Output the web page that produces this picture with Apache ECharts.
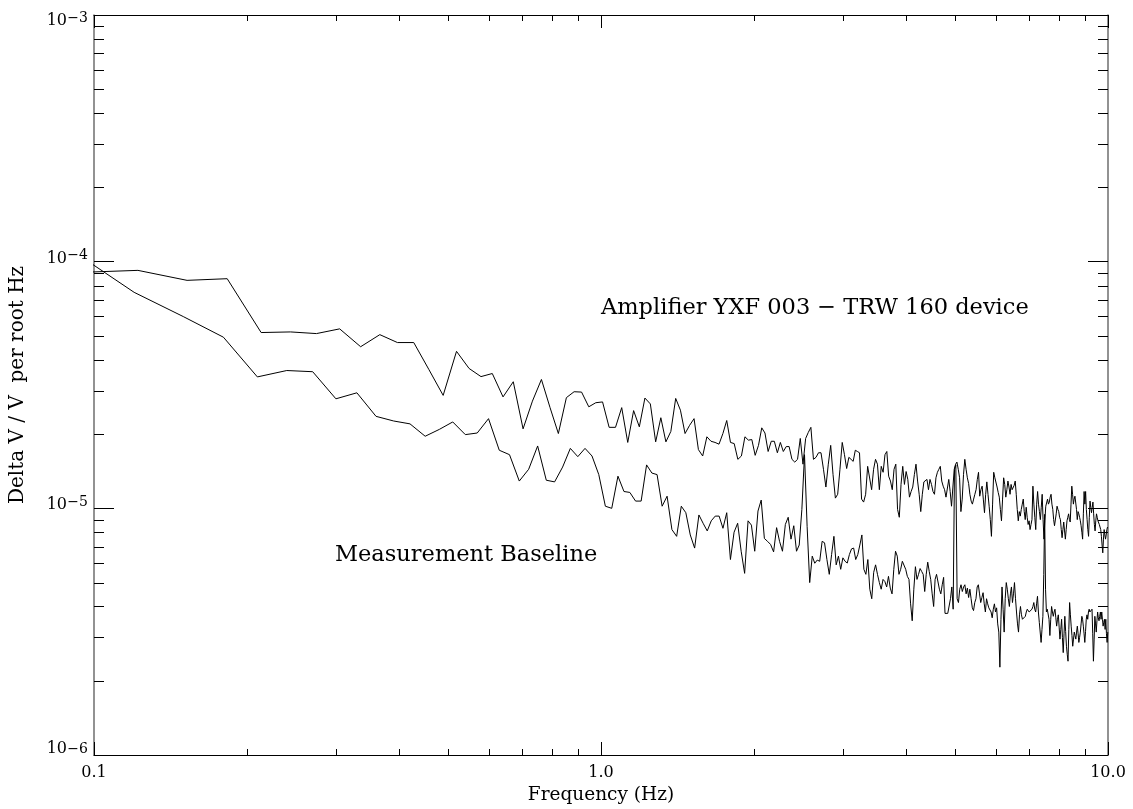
<!DOCTYPE html>
<html>
<head>
<meta charset="utf-8">
<script src="https://cdn.jsdelivr.net/npm/echarts@6/dist/echarts.min.js"></script>
<style>
  html, body { margin: 0; padding: 0; background: #fff; }
  #chart { width: 1133px; height: 809px; }
</style>
</head>
<body>
<div id="chart"></div>
<script>
// ---- Data (values in units of 1e-6, i.e. Delta V / V per root Hz x 1e6) ----
// Frequency grid: spectral bins, first bin index and bin width (Hz)
const amplifierFirstBin = 3;
const amplifierBinWidth = 0.030518;
const baselineFirstBin = 3;
const baselineBinWidth = 0.03;

// "Amplifier YXF 003 - TRW 160 device" trace
const amplifierValues = [
  90.3, 92.2, 84.0, 85.3, 51.6, 51.9, 51.1, 53.4, 45.2, 50.6,
  47.0, 47.0, 36.5, 28.7, 43.3, 36.9, 34.2, 35.2, 28.3, 32.6,
  21.0, 27.2, 33.3, 25.6, 20.1, 28.1, 29.7, 29.6, 25.8, 26.8,
  27.0, 21.3, 21.3, 25.6, 18.5, 24.9, 21.4, 28.0, 26.5, 18.6,
  23.3, 18.6, 20.5, 27.9, 25.0, 20.1, 21.7, 23.1, 17.3, 16.3,
  19.5, 18.7, 18.5, 18.2, 20.1, 22.7, 18.5, 18.3, 15.8, 16.3,
  19.5, 18.9, 19.0, 16.4, 18.0, 21.2, 20.2, 17.0, 18.7, 18.7,
  16.8, 18.5, 17.0, 17.8, 17.8, 15.8, 15.4, 15.8, 19.2, 15.1,
  19.2, 20.3, 21.3, 15.8, 16.1, 16.8, 16.8, 14.4, 12.2, 15.1,
  18.0, 13.7, 11.0, 11.4, 14.4, 18.5, 16.5, 14.5, 16.1, 15.8,
  15.5, 17.2, 17.0, 16.8, 10.9, 10.6, 11.4, 14.8, 14.6, 11.9,
  14.4, 15.8, 15.1, 11.9, 14.8, 14.0, 16.5, 17.0, 13.5, 12.9,
  11.9, 14.4, 15.1, 9.9, 9.2, 12.5, 14.8, 12.5, 14.1, 13.1,
  11.1, 11.7, 12.2, 13.7, 15.1, 12.9, 11.4, 9.7, 11.4, 12.8,
  12.9, 13.1, 11.9, 13.1, 12.5, 11.7, 11.4, 13.3, 14.0, 14.4,
  14.8, 12.9, 12.3, 11.9, 11.1, 10.9, 13.1, 11.7, 10.2, 12.2,
  14.4, 15.1, 15.4, 14.4, 13.3, 9.7, 10.9, 13.7, 15.8, 14.4,
  13.3, 12.6, 11.4, 10.7, 10.4, 10.9, 11.4, 11.9, 13.1, 14.0,
  11.2, 11.9, 12.3, 10.9, 9.6, 11.4, 12.8, 11.4, 10.2, 9.0,
  7.7, 10.4, 14.0, 13.3, 13.1, 12.2, 11.6, 11.1, 9.9, 8.9,
  10.9, 13.3, 12.5, 11.1, 11.9, 12.9, 12.2, 11.4, 12.5, 11.9,
  11.7, 12.4, 12.9, 11.4, 9.9, 8.9, 9.7, 9.3, 9.9, 10.4,
  10.9, 9.7, 9.0, 10.1, 9.2, 8.6, 8.9, 8.2, 8.6, 9.0,
  12.3, 10.4, 9.2, 8.2, 10.4, 11.7, 10.4, 9.7, 9.0, 10.1,
  11.4, 9.0, 7.5, 8.9, 10.2, 10.2, 10.9, 10.4, 10.6, 11.1,
  11.4, 10.4, 9.9, 9.0, 8.5, 8.6, 9.5, 10.2, 9.9, 9.7,
  9.2, 9.0, 8.2, 7.6, 8.2, 8.8, 8.1, 7.5, 8.2, 8.9,
  9.2, 9.5, 9.0, 8.8, 10.4, 12.3, 11.4, 10.4, 10.9, 11.2,
  11.4, 9.9, 9.0, 9.7, 9.5, 9.2, 8.9, 8.5, 8.0, 7.5,
  9.5, 11.7, 10.4, 11.7, 9.9, 9.0, 8.2, 7.7, 9.2, 10.7,
  10.1, 9.6, 10.1, 10.6, 9.5, 8.6, 8.1, 8.9, 9.5, 9.2,
  8.9, 8.9, 8.6, 8.6, 8.2, 7.7, 7.1, 6.6, 7.5, 8.2,
  7.8, 7.5, 7.8, 8.2, 8.4
];

// "Measurement Baseline" trace
const baselineValues = [
  111.8, 75.1, 59.9, 49.4, 34.1, 36.2, 35.8, 27.8, 29.4, 23.6,
  22.6, 22.0, 19.6, 20.9, 22.4, 19.9, 20.2, 23.1, 17.2, 16.5,
  12.9, 14.4, 17.9, 13.0, 12.8, 14.7, 17.5, 16.2, 17.5, 16.3,
  13.7, 10.2, 10.0, 13.5, 11.7, 11.6, 10.7, 10.7, 15.0, 13.9,
  13.7, 10.2, 11.2, 8.2, 7.7, 10.2, 9.6, 7.8, 6.9, 9.4,
  8.7, 8.1, 8.9, 9.3, 9.3, 8.3, 9.6, 6.2, 8.0, 8.7,
  6.7, 5.45, 8.9, 8.55, 6.7, 9.75, 10.8, 7.55, 7.35, 7.14,
  6.66, 8.35, 7.35, 6.7, 8.6, 9.2, 7.5, 8.5, 6.7, 7.1,
  9.9, 16.5, 8.45, 5.0, 6.4, 5.99, 6.17, 6.1, 7.35, 7.25,
  6.2, 5.4, 6.5, 7.7, 5.9, 6.4, 5.66, 6.3, 6.1, 6.0,
  6.5, 6.85, 6.9, 6.2, 6.5, 7.1, 7.8, 5.66, 5.4, 6.2,
  4.7, 4.3, 5.5, 5.9, 5.4, 5.0, 4.7, 5.15, 5.05, 4.8,
  5.3, 4.75, 4.5, 5.66, 6.7, 6.4, 5.4, 5.66, 6.1, 6.05,
  5.66, 5.3, 5.15, 4.1, 3.5, 4.7, 5.8, 5.15, 5.4, 5.7,
  5.55, 5.4, 4.6, 5.4, 6.05, 5.55, 5.15, 4.5, 4.0, 5.15,
  5.4, 5.5, 4.7, 4.5, 4.9, 5.25, 3.75, 3.8, 3.75, 3.8,
  4.3, 4.8, 3.9, 14.4, 15.0, 4.3, 4.15, 4.7, 4.9, 4.6,
  4.8, 4.9, 4.5, 4.75, 4.35, 4.7, 4.3, 3.95, 3.85, 4.15,
  4.3, 4.8, 4.9, 4.5, 4.15, 4.35, 4.55, 4.1, 3.8, 4.3,
  4.1, 3.95, 3.9, 3.8, 3.6, 3.9, 4.1, 3.8, 3.95, 3.4,
  3.15, 2.27, 3.55, 4.8, 3.9, 3.15, 4.3, 5.0, 4.7, 4.3,
  4.0, 4.5, 4.8, 4.15, 4.5, 5.0, 4.3, 3.8, 3.4, 3.15,
  3.7, 4.0, 3.7, 3.55, 3.5, 3.5, 3.65, 3.8, 3.9, 3.95,
  3.8, 3.8, 3.8, 3.9, 4.0, 4.15, 3.9, 3.8, 4.1, 4.4,
  3.8, 3.45, 3.5, 2.86, 3.23, 3.65, 5.4, 9.45, 4.7, 3.8,
  3.9, 3.95, 3.55, 3.05, 3.55, 4.0, 3.8, 3.65, 3.8, 3.9,
  3.6, 3.33, 3.55, 3.7, 3.3, 2.95, 3.23, 3.55, 3.0, 2.6,
  3.1, 3.65, 3.17, 2.76, 2.56, 2.4, 3.23, 4.15, 3.7, 3.33,
  3.05, 2.76, 2.95, 3.15, 3.05, 2.95, 3.15, 3.33, 3.1, 2.86,
  3.0, 3.15, 3.4, 3.65, 3.55, 3.33, 3.1, 2.86, 3.17, 3.55,
  3.7, 3.55, 3.8, 3.9, 3.8, 3.8, 3.85, 3.9, 3.1, 2.4,
  2.95, 3.65, 3.4, 3.15, 3.5, 3.8, 3.6, 3.5, 3.65, 3.8,
  3.55, 3.8, 3.55, 3.33, 3.45, 3.55, 3.23, 3.55, 3.1, 2.86,
  3.15
];
const valueUnit = 1e-6;

// Axes
const xRange = [0.1, 10];
const yRange = [1e-6, 1e-3];
const xTickLabels = { '-1': '0.1', '0': '1.0', '1': '10.0' };

// Text
const xTitle = 'Frequency (Hz)';
const yTitle = 'Delta V / V  per root Hz';
const amplifierLabel = 'Amplifier YXF 003 \u2212 TRW 160 device';
const baselineLabel = 'Measurement Baseline';

// ---- Build ----
const FONT = "'DejaVu Serif', 'Liberation Serif', serif";
function toSeries(values, firstBin, binWidth) {
  return values.map((v, i) => [(firstBin + i) * binWidth, v * valueUnit]);
}
// minor tick positions of a log axis (2..9 times each power of ten)
function minorTicks(lo, hi) {
  const out = [];
  for (let e = Math.round(Math.log10(lo)); e < Math.round(Math.log10(hi)); e++) {
    for (let m = 2; m <= 9; m++) out.push(m * Math.pow(10, e));
  }
  return out;
}

const chart = echarts.init(document.getElementById('chart'), null, { renderer: 'canvas' });

const frameColor = '#000';
const sideColor = '#6e6e6e';
const yTopExp = Math.round(Math.log10(yRange[1]));
const yBottomExp = Math.round(Math.log10(yRange[0]));

const supStyle = (padTop) => ({ fontFamily: FONT, fontSize: 14, color: '#000', lineHeight: 2, align: 'right', padding: [padTop, 0, 0, 0] });
const baseStyle = (padBottom) => ({ fontFamily: FONT, fontSize: 16, color: '#000', lineHeight: 12, align: 'right', padding: [0, 21, padBottom, 0] });

const option = {
  animation: false,
  backgroundColor: '#fff',
  grid: { left: 94, right: 25, top: 15, bottom: 54, containLabel: false, outerBoundsMode: 'none' },
  xAxis: [
    {
      type: 'log', logBase: 10, min: xRange[0], max: xRange[1], position: 'bottom',
      axisLine: { lineStyle: { color: frameColor, width: 1 } },
      axisTick: { inside: true, length: 13, lineStyle: { color: frameColor } },
      splitLine: { show: false },
      axisLabel: {
        margin: 10, fontFamily: FONT, fontSize: 16, color: '#000',
        formatter: v => xTickLabels[String(Math.round(Math.log10(v)))] || ''
      },
      name: xTitle, nameLocation: 'middle', nameGap: 29,
      nameTextStyle: { fontFamily: FONT, fontSize: 18.5, color: '#000' }
    },
    {
      type: 'log', logBase: 10, min: xRange[0], max: xRange[1], position: 'top',
      axisLine: { lineStyle: { color: frameColor, width: 1 } },
      axisTick: { inside: true, length: 13, lineStyle: { color: frameColor } },
      splitLine: { show: false }, axisLabel: { show: false }
    }
  ],
  yAxis: [
    {
      type: 'log', logBase: 10, min: yRange[0], max: yRange[1], position: 'left',
      axisLine: { lineStyle: { color: sideColor, width: 1.5 } },
      axisTick: { inside: true, length: 20, lineStyle: { color: frameColor } },
      splitLine: { show: false },
      axisLabel: {
        margin: 6, color: '#000',
        formatter: v => {
          const e = Math.round(Math.log10(v));
          const exp = (e < 0 ? '\u2212' : '') + Math.abs(e);
          if (e === yTopExp) return '{gap| }\n{sm|' + exp + '}\n{bm|10}';
          if (e === yBottomExp) return '{su|' + exp + '}\n{bu|10}';
          return '{sm|' + exp + '}\n{bm|10}';
        },
        rich: {
          gap: { fontFamily: FONT, fontSize: 10, lineHeight: 18 },
          sm: supStyle(0), bm: baseStyle(8),
          su: supStyle(0), bu: baseStyle(14)
        }
      },
      name: yTitle, nameLocation: 'middle', nameGap: 66, nameRotate: 90,
      nameTextStyle: { fontFamily: FONT, fontSize: 20, color: '#000' }
    },
    {
      type: 'log', logBase: 10, min: yRange[0], max: yRange[1], position: 'right',
      axisLine: { lineStyle: { color: sideColor, width: 1.5 } },
      axisTick: { inside: true, length: 20, lineStyle: { color: frameColor } },
      splitLine: { show: false }, axisLabel: { show: false }
    }
  ],
  series: [
    {
      name: 'Amplifier', type: 'line', xAxisIndex: 0, yAxisIndex: 0,
      data: toSeries(amplifierValues, amplifierFirstBin, amplifierBinWidth),
      showSymbol: false, symbol: 'none', clip: true,
      lineStyle: { color: '#000', width: 1 }, z: 3
    },
    {
      name: 'Baseline', type: 'line', xAxisIndex: 0, yAxisIndex: 0,
      data: toSeries(baselineValues, baselineFirstBin, baselineBinWidth),
      showSymbol: false, symbol: 'none', clip: true,
      lineStyle: { color: '#000', width: 1 }, z: 3
    },
    {
      type: 'custom', xAxisIndex: 0, yAxisIndex: 0, silent: true, clip: false,
      data: minorTicks(xRange[0], xRange[1]).map(v => [v, 1e-5]),
      renderItem: (params, api) => {
        const cs = params.coordSys;
        const px = Math.round(api.coord([api.value(0), 1e-5])[0]) + 0.5;
        const st = { stroke: '#000', lineWidth: 1 };
        return { type: 'group', children: [
          { type: 'line', shape: { x1: px, y1: cs.y + cs.height, x2: px, y2: cs.y + cs.height - 6 }, style: st },
          { type: 'line', shape: { x1: px, y1: cs.y, x2: px, y2: cs.y + 6 }, style: st }
        ]};
      }
    },
    {
      type: 'custom', xAxisIndex: 0, yAxisIndex: 0, silent: true, clip: false,
      data: minorTicks(yRange[0], yRange[1]).map(v => [1, v]),
      renderItem: (params, api) => {
        const cs = params.coordSys;
        const py = Math.round(api.coord([1, api.value(1)])[1]) + 0.5;
        const st = { stroke: '#000', lineWidth: 1 };
        return { type: 'group', children: [
          { type: 'line', shape: { x1: cs.x, y1: py, x2: cs.x + 10, y2: py }, style: st },
          { type: 'line', shape: { x1: cs.x + cs.width, y1: py, x2: cs.x + cs.width - 10, y2: py }, style: st }
        ]};
      }
    }
  ],
  graphic: [
    { type: 'text', left: 601, top: 297, style: { text: amplifierLabel, font: "22.5px " + FONT, fill: '#000' } },
    { type: 'text', left: 335, top: 544, style: { text: baselineLabel, font: "22.5px " + FONT, fill: '#000' } }
  ]
};
chart.setOption(option);
</script>
</body>
</html>
